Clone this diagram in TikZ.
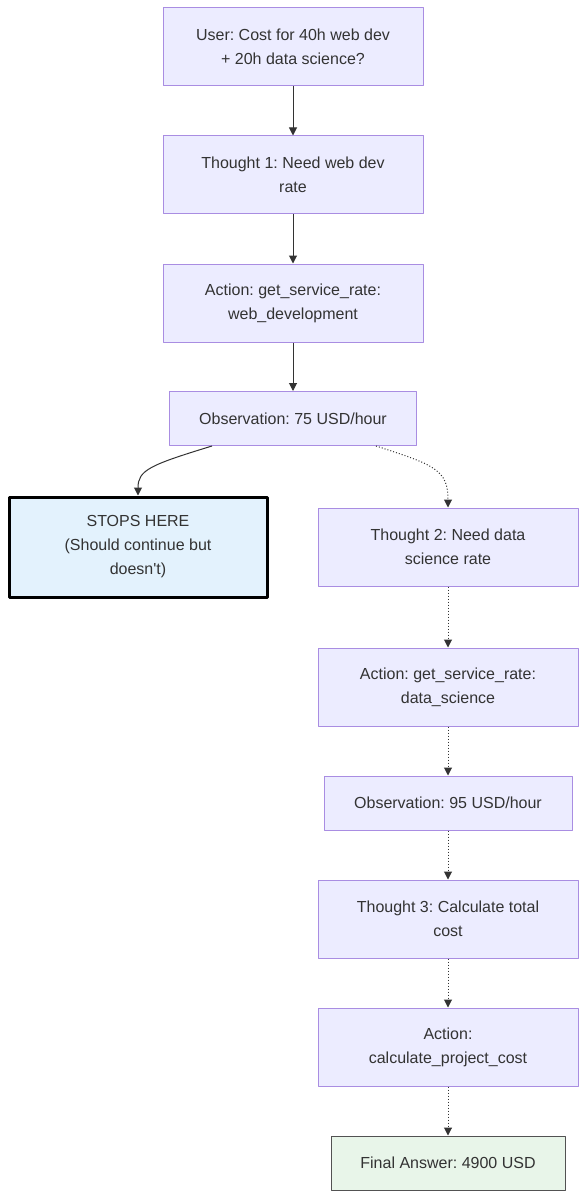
\documentclass[tikz,border=0pt]{standalone}
\usepackage{fontspec}
\setmainfont{Liberation Sans}
\usetikzlibrary{arrows.meta,positioning}
\definecolor{boxfill}{HTML}{ECECFF}
\definecolor{boxline}{HTML}{9370DB}
\definecolor{txt}{HTML}{333333}
\definecolor{stopfill}{HTML}{E3F2FD}
\definecolor{donefill}{HTML}{E8F5E9}
\tikzset{stepbox/.style={draw=boxline!80,fill=boxfill,text=txt,line width=1pt,minimum width=260pt,minimum height=78pt,align=center,inner sep=0pt},
  obsbox/.style={stepbox,minimum height=54pt},
  link/.style={-{Triangle[length=8pt,width=8pt]},draw=txt,line width=1pt},
  dotlink/.style={link,dotted}}
\frenchspacing
\begin{document}
\begin{tikzpicture}[x=1pt,y=-1pt,font=\fontsize{16}{24}\selectfont,line join=round]
\useasboundingbox[fill=white] (0,0) rectangle (586,1198);
% --- main branch
\node[stepbox] (user) at (293,47) {User: Cost for 40h web dev\\+ 20h data science?};
\node[stepbox] (th1) at (293,175) {Thought 1: Need web dev\\rate};
\node[stepbox] (act1) at (293,303) {Action: get\_service\_rate:\\web\_development};
\node[obsbox,minimum width=247pt] (obs1) at (293,418.5) {Observation: 75 USD/hour};
\node[stepbox,draw=black,fill=stopfill,line width=3pt,minimum width=258pt,minimum height=100pt] (stop) at (138,547) {STOPS HERE\\(Should continue but\\doesn\textquotesingle t)};
% --- right branch
\node[stepbox] (th2) at (448,547) {Thought 2: Need data\\science rate};
\node[stepbox] (act2) at (448,687) {Action: get\_service\_rate:\\data\_science};
\node[obsbox,minimum width=248pt] (obs2) at (448,803) {Observation: 95 USD/hour};
\node[stepbox] (th3) at (448,919) {Thought 3: Calculate total\\cost};
\node[stepbox] (act3) at (448,1047) {Action:\\calculate\_project\_cost};
\node[obsbox,draw=txt!85,fill=donefill,minimum width=234pt] (final) at (448,1163) {Final Answer: 4900 USD};
% --- connectors
\draw[link] (user) -- (th1);
\draw[link] (th1) -- (act1);
\draw[link] (act1) -- (obs1);
\draw[link] ([xshift=43pt]obs1.south west) .. controls (150,465) and (138,470) .. (stop.north);
\draw[dotlink] ([xshift=-41pt]obs1.south east) .. controls (435,465) and (448,470) .. (th2.north);
\draw[dotlink] (th2) -- (act2);
\draw[dotlink] (act2) -- (obs2);
\draw[dotlink] (obs2) -- (th3);
\draw[dotlink] (th3) -- (act3);
\draw[dotlink] (act3) -- (final);
\end{tikzpicture}
\end{document}
